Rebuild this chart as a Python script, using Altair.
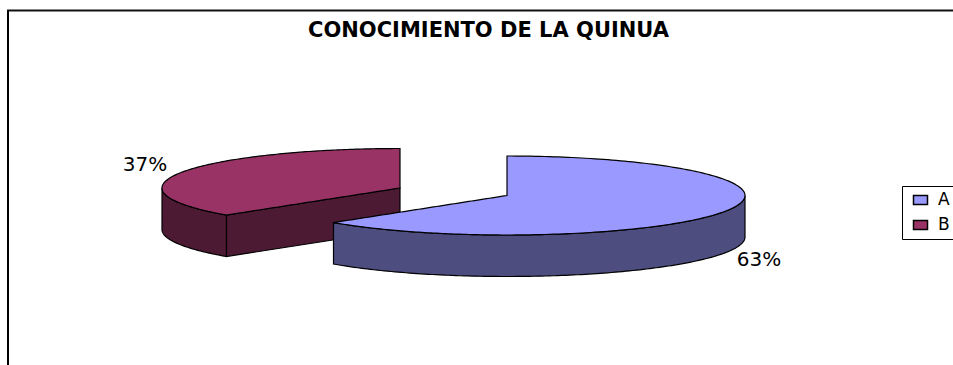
import altair as alt
import numpy as np
import pandas as pd

categories = ["A", "B"]
shares = [63, 37]
top_colors = ["#9999FF", "#993366"]
wall_colors = ["#4D4D80", "#4D1A33"]
chart_title = "CONOCIMIENTO DE LA QUINUA"

WIDTH, HEIGHT = 953, 365
RX, RY, DEPTH = 238, 39.5, 41.5
CENTER_A = (507, 195.5)
CENTER_B = (400, 188)
# clockwise sweep of the first slice, measured from twelve o'clock
sweep = 2 * np.pi * shares[0] / sum(shares)


def ellipse_x(cx, t):
    return cx + RX * np.sin(t)


def ellipse_y(cy, t):
    return cy - RY * np.cos(t)


def band(name, xs, y_top, y_bottom):
    return pd.DataFrame({"piece": name, "x": xs, "y": y_top, "y2": y_bottom})


def slice_a_top():
    cx, cy = CENTER_A
    end_x = ellipse_x(cx, sweep)
    end_y = ellipse_y(cy, sweep)
    left_x = np.linspace(end_x, cx, 60)
    left_top = end_y + (left_x - end_x) / (cx - end_x) * (cy - end_y)
    left_bottom = cy + RY * np.sqrt(np.clip(1 - ((left_x - cx) / RX) ** 2, 0, 1))
    t = np.linspace(0, np.pi / 2, 80)
    xs = np.r_[left_x, ellipse_x(cx, t)]
    return band("a_top", xs, np.r_[left_top, ellipse_y(cy, t)], np.r_[left_bottom, ellipse_y(cy, np.pi - t)])


def slice_a_wall():
    cx, cy = CENTER_A
    t = np.linspace(sweep, np.pi / 2, 140)
    edge = ellipse_y(cy, t)
    return band("a_wall", ellipse_x(cx, t), edge, edge + DEPTH)


def slice_b_top():
    cx, cy = CENTER_B
    end_x = ellipse_x(cx, sweep)
    end_y = ellipse_y(cy, sweep)
    t_left = np.linspace(1.5 * np.pi, sweep, 60)
    left_x = ellipse_x(cx, t_left)
    right_x = np.linspace(end_x, cx, 60)
    xs = np.r_[left_x, right_x]
    upper = cy - RY * np.sqrt(np.clip(1 - ((xs - cx) / RX) ** 2, 0, 1))
    lower = np.r_[ellipse_y(cy, t_left), end_y + (right_x - end_x) / (cx - end_x) * (cy - end_y)]
    return band("b_top", xs, upper, lower)


def slice_b_outer_wall():
    cx, cy = CENTER_B
    t = np.linspace(1.5 * np.pi, sweep, 60)
    edge = ellipse_y(cy, t)
    return band("b_outer", ellipse_x(cx, t), edge, edge + DEPTH)


def slice_b_cut_wall():
    cx, cy = CENTER_B
    xs = np.array([ellipse_x(cx, sweep), cx])
    edge = np.array([ellipse_y(cy, sweep), cy])
    return band("b_cut", xs, edge, edge + DEPTH)


x_enc = alt.X("x:Q", axis=None, scale=alt.Scale(domain=[0, WIDTH], nice=False, zero=False))
y_enc = alt.Y("y:Q", axis=None, scale=alt.Scale(domain=[HEIGHT, 0], nice=False, zero=False))
color_scale = alt.Scale(domain=categories, range=top_colors)
legend = alt.Legend(
    title=None,
    orient="none",
    legendX=902,
    legendY=186,
    strokeColor="#000000",
    padding=5.5,
    symbolOffset=4.5,
    symbolType="M-1,-0.65H1V0.65H-1Z",
    symbolSize=196,
    symbolStrokeColor="#000000",
    symbolStrokeWidth=1.5,
    labelFont="DejaVu Sans",
    labelFontSize=17,
    labelColor="#000000",
    labelOffset=9,
    rowPadding=7,
)


def wall(frame, color):
    return (
        alt.Chart(frame)
        .mark_area(orient="vertical", color=color, stroke="#000000", strokeWidth=1.2, opacity=1)
        .encode(x=x_enc, y=y_enc, y2="y2:Q")
    )


def top(frame, category):
    frame = frame.assign(category=category)
    return (
        alt.Chart(frame)
        .mark_area(orient="vertical", stroke="#000000", strokeWidth=1.2, opacity=1)
        .encode(
            x=x_enc,
            y=y_enc,
            y2="y2:Q",
            color=alt.Color("category:N", scale=color_scale, legend=legend),
        )
    )


border_left = (
    alt.Chart(pd.DataFrame({"x": [8], "y": [10.5], "y2": [HEIGHT]}))
    .mark_rule(color="#000000", strokeWidth=2)
    .encode(x=x_enc, y=y_enc, y2="y2:Q")
)
border_top = (
    alt.Chart(pd.DataFrame({"x": [7], "x2": [WIDTH], "y": [10.5]}))
    .mark_rule(color="#111111", strokeWidth=2)
    .encode(x=x_enc, x2="x2:Q", y=y_enc)
)

labels = pd.DataFrame(
    {
        "x": [759, 145],
        "y": [260, 165],
        "text": [f"{share}%" for share in shares],
    }
)
percent_text = (
    alt.Chart(labels)
    .mark_text(font="DejaVu Sans", fontSize=20, color="#000000", align="center", baseline="middle")
    .encode(x=x_enc, y=y_enc, text="text:N")
)

chart = alt.layer(
    border_left,
    border_top,
    wall(slice_b_outer_wall(), wall_colors[1]),
    wall(slice_b_cut_wall(), wall_colors[1]),
    top(slice_b_top(), categories[1]),
    wall(slice_a_wall(), wall_colors[0]),
    top(slice_a_top(), categories[0]),
    percent_text,
).properties(
    width=WIDTH,
    height=HEIGHT,
    padding=0,
    autosize=alt.AutoSizeParams(type="none"),
    background="#FFFFFF",
    title=alt.TitleParams(
        chart_title,
        font="DejaVu Sans",
        fontSize=21,
        fontWeight="bold",
        color="#000000",
        anchor="start",
        dx=308,
        dy=58,
        baseline="alphabetic",
        offset=0,
    ),
).configure_view(stroke=None)

chart.save("out.html", embed_options={"renderer": "svg", "actions": False})
